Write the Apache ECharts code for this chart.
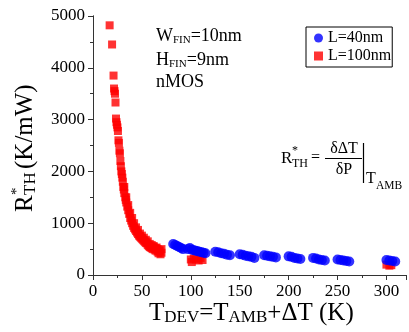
<!DOCTYPE html>
<html>
<head>
<meta charset="utf-8">
<script src="https://cdn.jsdelivr.net/npm/echarts@6/dist/echarts.min.js"></script>
<style>html,body{margin:0;padding:0;background:#fff}#c{width:409px;height:332px}</style>
</head>
<body>
<div id="c"></div>
<script>
// ---- data ----
var xTicks = [0, 50, 100, 150, 200, 250, 300];
var yTicks = [0, 1000, 2000, 3000, 4000, 5000];
var seriesNames = ['L=40nm', 'L=100nm'];
var redT = [17,19.5,21,21.5,22,22.5,23,23.5,24,24.5,25,25.5,26,26.5,27,27.5,28,28.5,29,29.5,30,30.5,31,31.5,32,33,33.5,34,35,36,37,38,39,40,41,42,43,44,45,46,47,48,49,50,51,52,53,54,55,56,57,58,59,60,61,62,63,64,65,66,67,68,69,70,
            32,34,36,38,40,42,44,46,48,50,52,54,56,58,60,62,64,66,68,70,
            100,101,103,105,108,110,112,300,303,305];
var redR = [4820,4450,3850,3600,3550,3500,3330,3020,2950,2900,2850,2780,2600,2550,2400,2350,2200,2100,2000,1950,1880,1800,1700,1650,1580,1500,1450,1400,1320,1250,1180,1100,1050,1000,950,910,880,850,820,790,760,740,720,700,680,660,640,620,610,580,560,540,530,520,500,560,490,470,530,450,420,480,400,430,
            1700,1500,1350,1200,1100,1000,920,870,800,760,720,680,650,600,580,540,520,500,460,500,
            300,250,320,300,280,330,290,200,180,190];
var blueT = [82,84,86,88,90,92,97,99,101,103,105,107,109,111,113,115,125,128,131,134,137,140,150,153,156,159,162,165,175,178,181,184,187,200,203,206,209,212,225,228,231,234,237,250,253,256,259,262,300,303,306,309];
var blueR = [600,580,560,540,520,500,500,520,490,480,470,460,450,440,430,420,450,440,420,410,390,380,400,390,370,360,350,330,380,370,360,350,340,360,350,330,320,310,330,320,300,290,280,300,290,280,270,260,290,280,270,260];

function zip(a, b) { var o = []; for (var i = 0; i < a.length; i++) o.push([a[i], b[i]]); return o; }

var FF = 'Liberation Serif';
var chart = echarts.init(document.getElementById('c'));
var axLine = { lineStyle: { color: '#333', width: 1 } };
function t(x, y, text, size, extra) {
  var st = { text: text, fontFamily: FF, fontSize: size, fill: '#000', verticalAlign: 'middle' };
  if (extra) for (var k in extra) st[k] = extra[k];
  return { type: 'text', x: x, y: y, z: 100, style: st };
}
chart.setOption({
  animation: false,
  textStyle: { fontFamily: FF },
  grid: { left: 93, right: 1, top: 16, bottom: 57 },
  xAxis: [{
    type: 'value', min: 0, max: 320, interval: 50, position: 'bottom',
    axisLine: axLine, splitLine: { show: false },
    axisTick: { show: true, inside: false, length: 5, lineStyle: { color: '#333' } },
    minorTick: { show: true, splitNumber: 2, length: 3, lineStyle: { color: '#333' } },
    axisLabel: { fontFamily: FF, fontSize: 17, color: '#000', margin: 8,
      formatter: function (v) { return xTicks.indexOf(v) >= 0 ? String(v) : ''; } }
  }, {
    type: 'value', min: 0, max: 320, interval: 50, position: 'top',
    axisLine: axLine, splitLine: { show: false },
    axisTick: { show: true, inside: true, length: 5, lineStyle: { color: '#333' } },
    axisLabel: { show: false }
  }],
  yAxis: [{
    type: 'value', min: 0, max: 5000, interval: 1000, position: 'left',
    axisLine: { show: true, lineStyle: { color: '#333', width: 1 } }, splitLine: { show: false },
    axisTick: { show: true, inside: false, length: 5, lineStyle: { color: '#333' } },
    minorTick: { show: true, splitNumber: 2, length: 3, lineStyle: { color: '#333' } },
    axisLabel: { fontFamily: FF, fontSize: 17, color: '#000', margin: 8,
      formatter: function (v) { return yTicks.indexOf(v) >= 0 ? String(v) : ''; } }
  }, {
    type: 'value', min: 0, max: 5000, interval: 1000, position: 'right',
    axisLine: { show: true, lineStyle: { color: '#333', width: 1 } }, splitLine: { show: false },
    axisTick: { show: true, inside: true, length: 5, lineStyle: { color: '#333' } },
    minorTick: { show: true, splitNumber: 2, length: 3, lineStyle: { color: '#333' } },
    axisLabel: { show: false }
  }],
  legend: {
    left: 306, top: 27, orient: 'vertical', padding: [3, 1, 3, 8], itemGap: 2,
    itemWidth: 9, itemHeight: 9, borderColor: '#000', borderWidth: 1,
    textStyle: { fontFamily: FF, fontSize: 16, color: '#000' },
    data: [{ name: seriesNames[0], icon: 'circle' }, { name: seriesNames[1], icon: 'rect' }]
  },
  series: [{
    name: seriesNames[1], type: 'scatter', symbol: 'rect', symbolSize: 8,
    itemStyle: { color: '#ff0000' }, data: zip(redT, redR)
  }, {
    name: seriesNames[0], type: 'scatter', symbol: 'circle', symbolSize: 10,
    itemStyle: { color: '#0000ff' }, data: zip(blueT, blueR)
  }],
  graphic: [
    { type: 'text', left: 156, top: 27, style: { text: '{m|W}{s|FIN}{m|=10nm}', rich: { m: { fontFamily: FF, fontSize: 18, color: '#000', lineHeight: 20 }, s: { fontFamily: FF, fontSize: 11, color: '#000', verticalAlign: 'bottom', lineHeight: 10 } } } },
    { type: 'text', left: 156, top: 51, style: { text: '{m|H}{s|FIN}{m|=9nm}', rich: { m: { fontFamily: FF, fontSize: 18, color: '#000', lineHeight: 20 }, s: { fontFamily: FF, fontSize: 11, color: '#000', verticalAlign: 'bottom', lineHeight: 10 } } } },
    { type: 'text', left: 156, top: 73, style: { text: 'nMOS', fontFamily: FF, fontSize: 18, fill: '#000' } },
    { type: 'text', left: 149, top: 301, style: { text: '{m|T}{s|DEV}{m|=T}{s|AMB}{m|+ΔT (K)}', rich: { m: { fontFamily: FF, fontSize: 25, color: '#000', lineHeight: 26 }, s: { fontFamily: FF, fontSize: 17, color: '#000', verticalAlign: 'bottom', lineHeight: 14 } } } },
    { type: 'group', x: 25, y: 212, rotation: Math.PI / 2, children: [
      t(0, 0, 'R', 25),
      t(17, -8, '*', 15),
      t(17, 6, 'TH', 17),
      t(43, 0, '(K/mW)', 25)
    ] },
    t(281, 159, 'R', 17),
    t(292, 151, '*', 12),
    t(292, 164, 'TH', 12),
    t(311, 158, '=', 16),
    t(344, 149, 'δΔT', 16, { align: 'center' }),
    { type: 'line', z: 100, shape: { x1: 325, y1: 158.5, x2: 362, y2: 158.5 }, style: { stroke: '#000', lineWidth: 1 } },
    t(344, 170, 'δP', 16, { align: 'center' }),
    { type: 'line', z: 100, shape: { x1: 363.5, y1: 143, x2: 363.5, y2: 183 }, style: { stroke: '#000', lineWidth: 1.2 } },
    t(366, 179, 'T', 16),
    t(376, 186, 'AMB', 11.5)
  ]
});
</script>
</body>
</html>
